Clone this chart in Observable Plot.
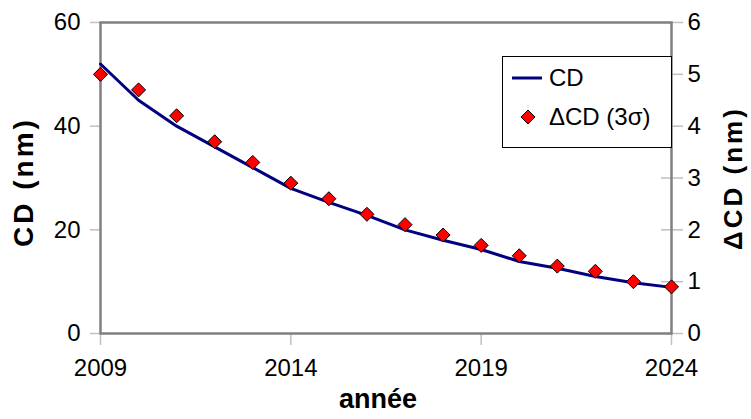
<!DOCTYPE html>
<html>
<head>
<meta charset="utf-8">
<script src="https://cdn.jsdelivr.net/npm/d3@7"></script>
<script src="https://cdn.jsdelivr.net/npm/@observablehq/plot@0.6"></script>
<style>
  body { margin: 0; background: #fff; }
  #wrap { position: relative; width: 751px; height: 419px; font-family: "Liberation Sans", Arial, sans-serif; }
  #wrap svg { display: block; }
  #legend { position: absolute; left: 502px; top: 56px; width: 170px; height: 92px; box-sizing: border-box;
            border: 1px solid #000; background: #fff; font-size: 24px; color: #000; }
  #legend .row { position: absolute; left: 8px; display: flex; align-items: center; white-space: nowrap; }
  #legend .row span { margin-left: 6px; }
</style>
</head>
<body>
<div id="wrap">
  <div id="chart"></div>
  <div id="legend"></div>
</div>
<script>
// ---- data ----
const years = [2009, 2010, 2011, 2012, 2013, 2014, 2015, 2016, 2017, 2018, 2019, 2020, 2021, 2022, 2023, 2024];
const cdValues = [52, 45, 40, 36, 32, 28, 25.3, 22.8, 20, 18, 16.2, 13.9, 12.6, 11, 9.8, 8.9];
const deltaCdValues = [5.0, 4.7, 4.2, 3.7, 3.3, 2.9, 2.6, 2.3, 2.1, 1.9, 1.7, 1.5, 1.3, 1.2, 1.0, 0.9];
const xTicks = [2009, 2014, 2019, 2024];
const yLeftTicks = [0, 20, 40, 60];
const yRightTicks = [0, 1, 2, 3, 4, 5, 6];
const seriesNames = ["CD", "ΔCD (3σ)"];
const xTitle = ["année"];
const yLeftTitle = ["CD (nm)"];
const yRightTitle = ["ΔCD (nm)"];
const rightScaleFactor = 10; // right axis 0–6 maps onto left axis 0–60

// ---- chart ----
const data = years.map((year, i) => ({year, cd: cdValues[i], dcd: deltaCdValues[i]}));
const diamond = {
  draw(ctx, size) {
    const r = Math.sqrt(size / Math.PI);
    ctx.moveTo(0, -r); ctx.lineTo(r, 0); ctx.lineTo(0, r); ctx.lineTo(-r, 0); ctx.closePath();
  }
};
const font = '"Liberation Sans", Arial, sans-serif';
const tickColor = "#c0c0c0";

const chart = Plot.plot({
  width: 751,
  height: 419,
  marginLeft: 100,
  marginRight: 80,
  marginTop: 22,
  marginBottom: 86,
  style: { fontFamily: font, fontSize: "24px", color: "#000", background: "#fff" },
  x: { domain: [2009, 2024] },
  y: { domain: [0, 60] },
  marks: [
    Plot.axisX(xTicks, { tickSize: 12, tickPadding: 13, stroke: tickColor, strokeWidth: 1.5, fill: "#000", fontSize: 24, tickFormat: d => String(d), label: null }),
    Plot.axisY(yLeftTicks, { anchor: "left", tickSize: 10, tickPadding: 10, stroke: tickColor, strokeWidth: 1.5, fill: "#000", fontSize: 24, label: null }),
    Plot.axisY(yRightTicks.map(d => d * rightScaleFactor), { anchor: "right", tickSize: 11, tickPadding: 5, stroke: tickColor, strokeWidth: 1.5, fill: "#000", fontSize: 24, tickFormat: d => String(d / rightScaleFactor), label: null }),
    Plot.axisY(yRightTicks.map(d => d * rightScaleFactor), { anchor: "right", tickSize: -11, stroke: tickColor, strokeWidth: 1.5, tickFormat: () => "", label: null }),
    Plot.frame({ stroke: "#808080", strokeWidth: 2.5 }),
    Plot.line(data, { x: "year", y: "cd", stroke: "#000080", strokeWidth: 3 }),
    Plot.dot(data, { x: "year", y: d => d.dcd * rightScaleFactor, symbol: diamond, r: 7, fill: "#ff0000", stroke: "#000", strokeWidth: 1 }),
    Plot.text(xTitle, { frameAnchor: "bottom", dx: -8, dy: 74, textAnchor: "middle", fontSize: 27, fontWeight: "bold", fill: "#000" }),
    Plot.text(yLeftTitle, { frameAnchor: "left", dx: -76, dy: 4, textAnchor: "middle", rotate: -90, fontSize: 28, fontWeight: "bold", fill: "#000" }),
    Plot.text(yRightTitle, { frameAnchor: "right", dx: 62, textAnchor: "middle", rotate: -90, fontSize: 26, fontWeight: "bold", fill: "#000" })
  ]
});
// wider letter spacing for the rotated axis titles, as in the reference
d3.select(chart).selectAll("text").filter(function() {
  const t = this.textContent;
  return t === yLeftTitle[0] || t === yRightTitle[0];
}).attr("letter-spacing", "3px");
document.getElementById("chart").appendChild(chart);

// ---- legend ----
const legend = document.getElementById("legend");
legend.innerHTML = `
  <div class="row" style="top:7px;height:28px;">
    <svg width="32" height="10"><line x1="1" x2="31" y1="5" y2="5" stroke="#000080" stroke-width="3"/></svg>
    <span>${seriesNames[0]}</span>
  </div>
  <div class="row" style="top:46px;height:28px;">
    <svg width="32" height="18"><path d="M17,2L24,9L17,16L10,9Z" fill="#ff0000" stroke="#000" stroke-width="1"/></svg>
    <span>${seriesNames[1]}</span>
  </div>`;
</script>
</body>
</html>
